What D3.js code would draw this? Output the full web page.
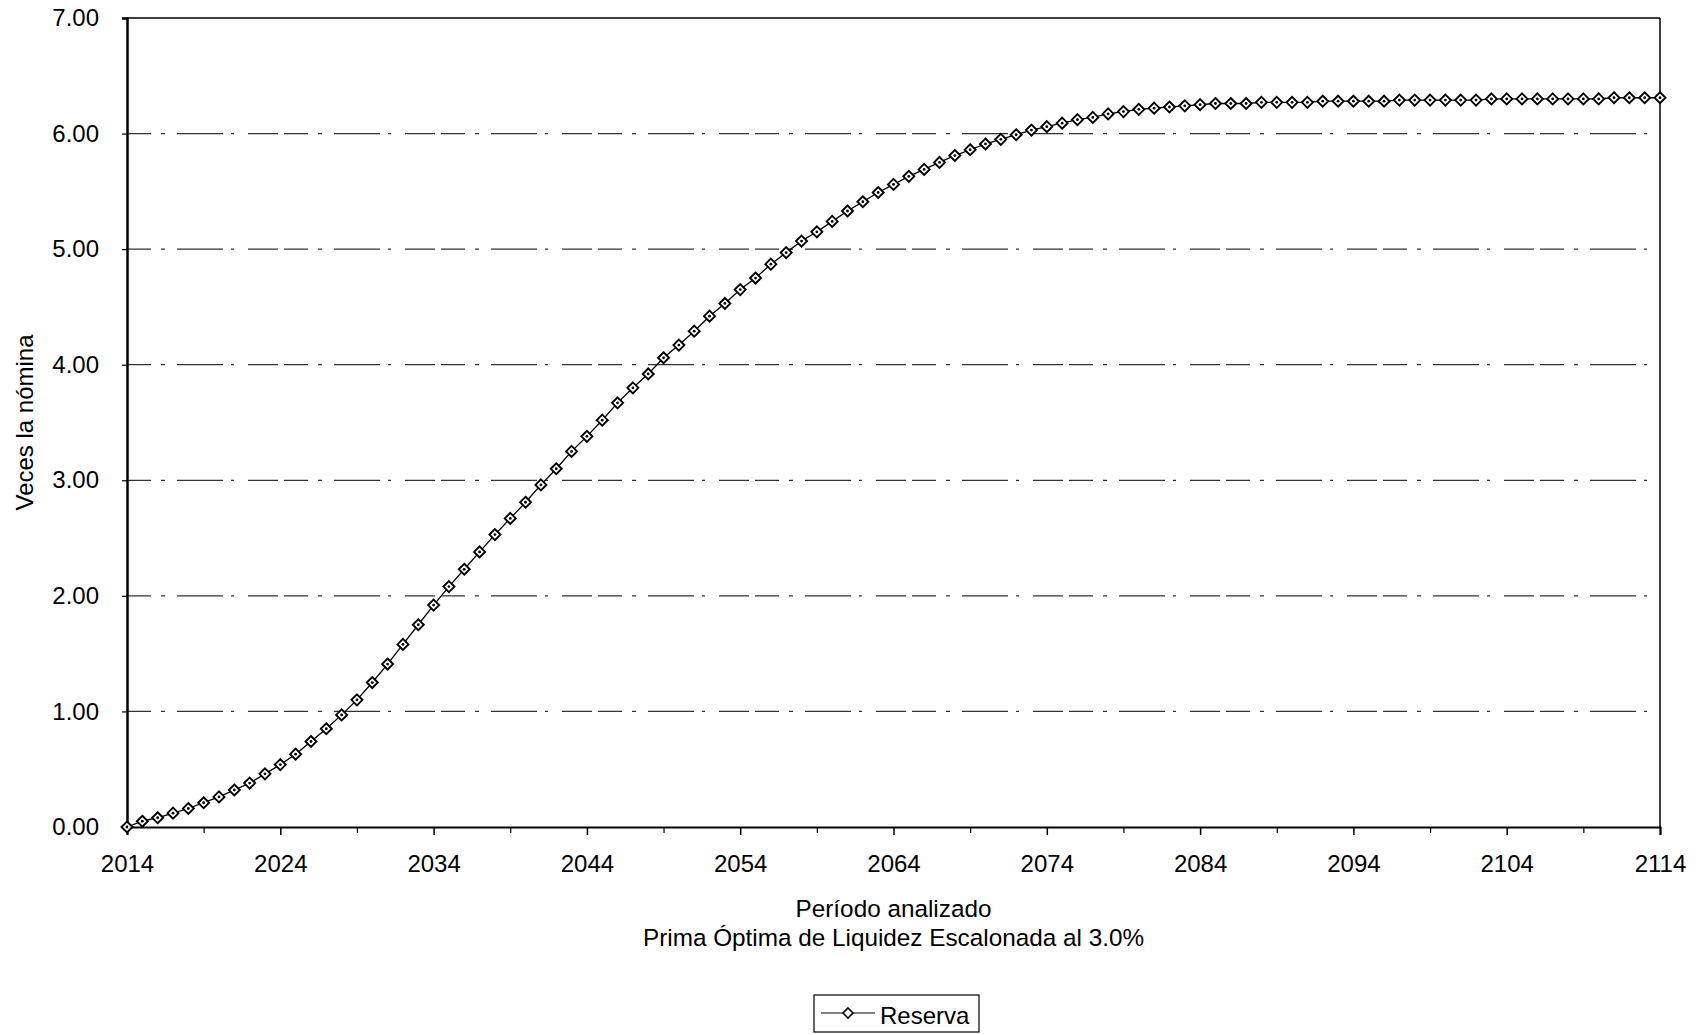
<!DOCTYPE html>
<html><head><meta charset="utf-8">
<script src="https://cdn.jsdelivr.net/npm/d3@7"></script>
<style>
html,body{margin:0;padding:0;background:#fff;}
svg{display:block;font-family:"Liberation Sans",Arial,sans-serif;}
</style></head><body>
<svg id="chart" width="1699" height="1035"></svg>
<script>
const years = [2014,2015,2016,2017,2018,2019,2020,2021,2022,2023,2024,2025,2026,2027,2028,2029,2030,2031,2032,2033,
2034,2035,2036,2037,2038,2039,2040,2041,2042,2043,2044,2045,2046,2047,2048,2049,2050,2051,2052,2053,
2054,2055,2056,2057,2058,2059,2060,2061,2062,2063,2064,2065,2066,2067,2068,2069,2070,2071,2072,2073,
2074,2075,2076,2077,2078,2079,2080,2081,2082,2083,2084,2085,2086,2087,2088,2089,2090,2091,2092,2093,
2094,2095,2096,2097,2098,2099,2100,2101,2102,2103,2104,2105,2106,2107,2108,2109,2110,2111,2112,2113,2114];
const reserva = [0.00,0.05,0.08,0.12,0.16,0.21,0.26,0.32,0.38,0.46,0.54,0.63,0.74,0.85,0.97,1.10,1.25,1.41,1.58,1.75,
1.92,2.08,2.23,2.38,2.53,2.67,2.81,2.96,3.10,3.25,3.38,3.52,3.67,3.80,3.92,4.06,4.17,4.29,4.42,4.53,
4.65,4.75,4.87,4.97,5.07,5.15,5.24,5.33,5.41,5.49,5.56,5.63,5.69,5.75,5.81,5.86,5.91,5.95,5.99,6.03,
6.06,6.09,6.12,6.14,6.17,6.19,6.21,6.22,6.23,6.24,6.25,6.26,6.26,6.26,6.27,6.27,6.27,6.27,6.28,6.28,
6.28,6.28,6.28,6.29,6.29,6.29,6.29,6.29,6.29,6.30,6.30,6.30,6.30,6.30,6.30,6.30,6.30,6.31,6.31,6.31,6.31];
const xTickLabels = [2014,2024,2034,2044,2054,2064,2074,2084,2094,2104,2114];
const xMinorTicks = [2019,2029,2039,2049,2059,2069,2079,2089,2099,2109];
const yTicks = [0,1,2,3,4,5,6,7];
const seriesName = "Reserva";
const xTitle = "Período analizado";
const xSubtitle = "Prima Óptima de Liquidez Escalonada al 3.0%";
const yTitle = "Veces la nómina";

const data = years.map((yr,i)=>({year:yr, value:reserva[i]}));
const svg = d3.select("#chart");
const m = {left:127, right:1660, top:18, bottom:827};
const x = d3.scaleLinear().domain([2014,2114]).range([m.left, m.right]);
const y = d3.scaleLinear().domain([0,7]).range([m.bottom, m.top]);

// gridlines
svg.append("g").selectAll("line").data(yTicks.filter(d=>d>0 && d<7)).join("line")
  .attr("x1", m.left).attr("x2", m.right)
  .attr("y1", d=>y(d)).attr("y2", d=>y(d))
  .attr("stroke","#333").attr("stroke-width",1.3)
  .attr("stroke-dasharray","24,10,4,12,46,8,3,14,30,6");

// plot border (top, right)
svg.append("line").attr("x1",m.left).attr("x2",m.right).attr("y1",m.top).attr("y2",m.top)
  .attr("stroke","#000").attr("stroke-width",1.5);
svg.append("line").attr("x1",m.right).attr("x2",m.right).attr("y1",m.top).attr("y2",m.bottom)
  .attr("stroke","#000").attr("stroke-width",1.5);

// x axis
const xAxis = svg.append("g").attr("transform",`translate(0,${m.bottom})`)
  .call(d3.axisBottom(x).tickValues(xTickLabels).tickFormat(d3.format("d")).tickSize(8).tickPadding(20));
xAxis.select(".domain").attr("stroke","#000").attr("stroke-width",2);
xAxis.selectAll(".tick line").attr("stroke","#000").attr("stroke-width",1.5);
xAxis.selectAll("text").attr("font-size",24).attr("fill","#000").attr("font-family","Liberation Sans, Arial, sans-serif");
svg.append("g").attr("transform",`translate(0,${m.bottom})`)
  .call(d3.axisBottom(x).tickValues(xMinorTicks).tickFormat("").tickSize(6).tickSizeOuter(0))
  .call(g=>g.select(".domain").remove())
  .selectAll(".tick line").attr("stroke","#000").attr("stroke-width",1.2);

// y axis
const yAxis = svg.append("g").attr("transform",`translate(${m.left},0)`)
  .call(d3.axisLeft(y).tickValues(yTicks).tickFormat(d3.format(".2f")).tickSize(5).tickPadding(23));
yAxis.select(".domain").attr("stroke","#000").attr("stroke-width",2.5);
yAxis.selectAll(".tick line").attr("stroke","#000").attr("stroke-width",1.2);
yAxis.selectAll("text").attr("font-size",24).attr("fill","#000").attr("font-family","Liberation Sans, Arial, sans-serif");

// line
svg.append("path").datum(data)
  .attr("d", d3.line().x(d=>x(d.year)).y(d=>y(d.value)))
  .attr("fill","none").attr("stroke","#000").attr("stroke-width",1.3);

// markers
const diamond = r => `M0,${-r}L${r},0L0,${r}L${-r},0Z`;
svg.append("g").selectAll("path").data(data).join("path")
  .attr("transform", d=>`translate(${x(d.year)},${y(d.value)})`)
  .attr("d", diamond(5.5))
  .attr("fill","#fff").attr("stroke","#000").attr("stroke-width",1.9);
svg.append("g").selectAll("circle").data(data).join("circle")
  .attr("cx", d=>x(d.year)).attr("cy", d=>y(d.value)).attr("r",1.4).attr("fill","#000");

// titles
const cx = (m.left+m.right)/2;
svg.append("text").attr("x",cx).attr("y",917).attr("text-anchor","middle")
  .attr("font-size",24.3).text(xTitle);
svg.append("text").attr("x",cx).attr("y",946).attr("text-anchor","middle")
  .attr("font-size",24.3).text(xSubtitle);
svg.append("text").attr("transform",`translate(33,${(m.top+m.bottom)/2}) rotate(-90)`)
  .attr("text-anchor","middle").attr("font-size",24).text(yTitle);

// legend
const lg = svg.append("g");
lg.append("rect").attr("x",814).attr("y",995).attr("width",165).attr("height",37)
  .attr("fill","none").attr("stroke","#000").attr("stroke-width",1.2);
lg.append("line").attr("x1",821).attr("x2",875).attr("y1",1013).attr("y2",1013)
  .attr("stroke","#000").attr("stroke-width",1.2);
lg.append("path").attr("transform","translate(848,1013)").attr("d",diamond(5))
  .attr("fill","#fff").attr("stroke","#000").attr("stroke-width",1.6);
lg.append("text").attr("x",880).attr("y",1024).attr("font-size",24).text(seriesName);
</script>
</body></html>
